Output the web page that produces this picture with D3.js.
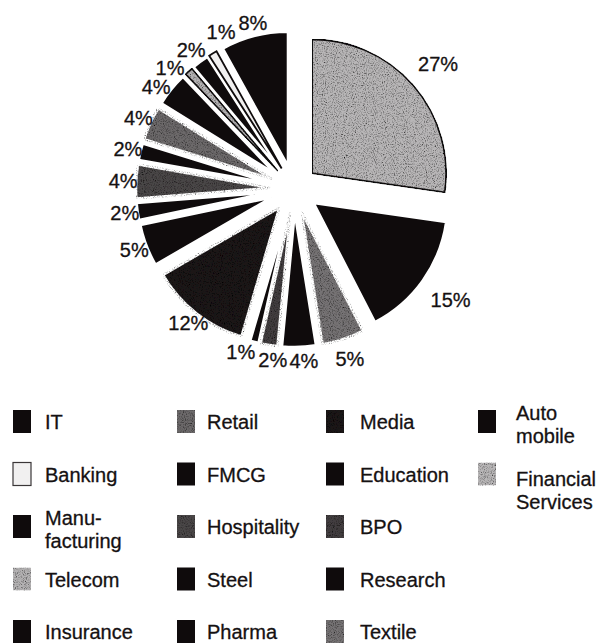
<!DOCTYPE html>
<meta charset="utf-8">
<script src="https://cdn.jsdelivr.net/npm/d3@7"></script>
<style>
  body { margin: 0; background: #fff; }
  text { font-family: "Liberation Sans", Arial, sans-serif; fill: #151112; stroke: #151112; stroke-width: 0.3px; }
</style>
<div id="chart"></div>
<script>

// sector shares (%), in legend order = pie order (anticlockwise from 12 o'clock)
var categories = ["IT", "Banking", "Manufacturing", "Telecom", "Insurance",
                  "Retail", "FMCG", "Hospitality", "Steel", "Pharma",
                  "Media", "Education", "BPO", "Research", "Textile",
                  "Automobile", "Financial Services"];
var shares = [8, 1, 2, 1, 4, 4, 2, 4, 2, 5, 12, 1, 2, 4, 5, 15, 27];
var legendLabels = [["IT"], ["Banking"], ["Manu-", "facturing"], ["Telecom"], ["Insurance"],
                    ["Retail"], ["FMCG"], ["Hospitality"], ["Steel"], ["Pharma"],
                    ["Media"], ["Education"], ["BPO"], ["Research"], ["Textile"],
                    ["Auto", "mobile"], ["Financial", "Services"]];

// shading of the printed chart
var palette = ["#0f0b0c", "#f1f0f0", "#0f0b0c", "#b4b2b3", "#0f0b0c",
               "#6c696a", "#0f0b0c", "#4a4647", "#0f0b0c", "#0f0b0c",
               "#1b1718", "#0f0b0c", "#423e3f", "#0f0b0c", "#767374",
               "#0f0b0c", "#b8b6b7"];
var grainy = new Set(["Telecom", "Retail", "Hospitality", "Media", "BPO", "Textile", "Financial Services"]);
var outlined = new Set(["Banking", "Telecom", "Financial Services"]);

var color = d3.scaleOrdinal(categories, palette);

var width = 612, height = 643;
var cx = 294, cy = 189, r = 134, explode = 24;

var svg = d3.select("#chart").append("svg")
    .attr("width", width)
    .attr("height", height);

// grain for the dotted screens
var f = svg.append("defs").append("filter")
    .attr("id", "grain")
    .attr("x", 0).attr("y", 0).attr("width", 1).attr("height", 1);
f.append("feTurbulence")
    .attr("type", "fractalNoise").attr("baseFrequency", 0.9).attr("numOctaves", 2)
    .attr("seed", 3).attr("result", "noise");
f.append("feColorMatrix")
    .attr("in", "noise").attr("type", "matrix")
    .attr("values", "2.3 0 0 0 -0.25  2.3 0 0 0 -0.25  2.3 0 0 0 -0.25  0 0 0 0 1")
    .attr("result", "speck");
f.append("feBlend").attr("in", "SourceGraphic").attr("in2", "speck").attr("mode", "multiply").attr("result", "mix");
f.append("feComposite").attr("in", "mix").attr("in2", "SourceGraphic").attr("operator", "in");

var pie = d3.pie().sort(null).startAngle(0).endAngle(-2 * Math.PI);
var arcs = pie(shares);
arcs.forEach(function(d, i) {
  d.name = categories[i];
  d.mid = (d.startAngle + d.endAngle) / 2;
});

var arc = d3.arc().innerRadius(0).outerRadius(r);

var pieG = svg.append("g").attr("transform", "translate(" + cx + "," + cy + ")");

function shift(d) {
  return "translate(" + (Math.sin(d.mid) * explode) + "," + (-Math.cos(d.mid) * explode) + ")";
}

// plain slices first, outlined ones on top
pieG.selectAll("path.slice")
  .data(arcs.filter(function(d) { return !outlined.has(d.name); }).concat(arcs.filter(function(d) { return outlined.has(d.name); })))
  .enter()
  .append("path")
    .attr("class", "slice")
    .attr("d", arc)
    .attr("transform", shift)
    .attr("fill", function(d) { return color(d.name); })
    .attr("filter", function(d) { return grainy.has(d.name) ? "url(#grain)" : null; })
    .attr("stroke", function(d) { return outlined.has(d.name) ? "#0f0b0c" : "#fff"; })
    .attr("stroke-width", function(d) { return outlined.has(d.name) ? 1.8 : 2.5; })
    .attr("stroke-linejoin", "miter");

// percentage labels
var labels = pieG.selectAll("text.pct")
  .data(arcs)
  .enter()
  .append("text")
    .attr("class", "pct")
    .attr("text-anchor", "middle")
    .attr("dy", "0.35em")
    .style("font-size", "20px")
    .text(function(d) { return d.value + "%"; });

var boxes = [];
labels.each(function(d) {
  var bb = this.getBBox();
  var s = Math.sin(d.mid), c = Math.cos(d.mid);
  var R = r + 13 + Math.max(0, s) * 26;
  boxes.push({ d: d, node: this, w: bb.width, h: 16,
               x: s * (explode + R), y: -c * (explode + R) });
});

// push neighbouring labels apart along the rim
for (var it = 0; it < 400; it++) {
  var moved = false;
  for (var i = 0; i < boxes.length - 1; i++) {
    var A = boxes[i], B = boxes[i + 1];
    var ox = (A.w + B.w) / 2 + 2 - Math.abs(A.x - B.x);
    var oy = (A.h + B.h) / 2 + 2 - Math.abs(A.y - B.y);
    if (ox > 0 && oy > 0) {
      var a = (A.d.mid + B.d.mid) / 2;
      var tx = Math.cos(a), ty = Math.sin(a);
      A.x += tx * 0.5; A.y += ty * 0.5;
      B.x -= tx * 0.5; B.y -= ty * 0.5;
      moved = true;
    }
  }
  if (!moved) break;
}
boxes.forEach(function(b) {
  d3.select(b.node).attr("x", b.x).attr("y", b.y);
});

// legend, five rows per column
var colX = [13, 177, 326, 478];
var textX = [45, 207, 360, 516];
var row0 = 429, rowStep = 52.5;

var legend = svg.append("g").selectAll("g")
  .data(categories)
  .enter()
  .append("g");

legend.append("rect")
    .attr("x", function(d, i) { return colX[Math.floor(i / 5)]; })
    .attr("y", function(d, i) { return row0 + (i % 5) * rowStep - 19; })
    .attr("width", 18)
    .attr("height", 23)
    .attr("fill", function(d) { return color(d); })
    .attr("filter", function(d) { return grainy.has(d) ? "url(#grain)" : null; })
    .attr("stroke", function(d) { return d === "Banking" ? "#3a3637" : "none"; })
    .attr("stroke-width", 1.2);

legend.append("text")
    .style("font-size", "20px")
    .attr("x", function(d, i) { return textX[Math.floor(i / 5)]; })
    .attr("y", function(d, i) {
      var base = row0 + (i % 5) * rowStep;
      var lines = legendLabels[i].length;
      if (lines === 1) return base;
      return i === categories.length - 1 ? base + 4 : base - 9;
    })
    .selectAll("tspan")
    .data(function(d, i) { return legendLabels[i]; })
    .enter()
    .append("tspan")
      .attr("x", function() { return d3.select(this.parentNode).attr("x"); })
      .attr("dy", function(d, j) { return j === 0 ? 0 : 23; })
      .text(function(d) { return d; });

</script>
